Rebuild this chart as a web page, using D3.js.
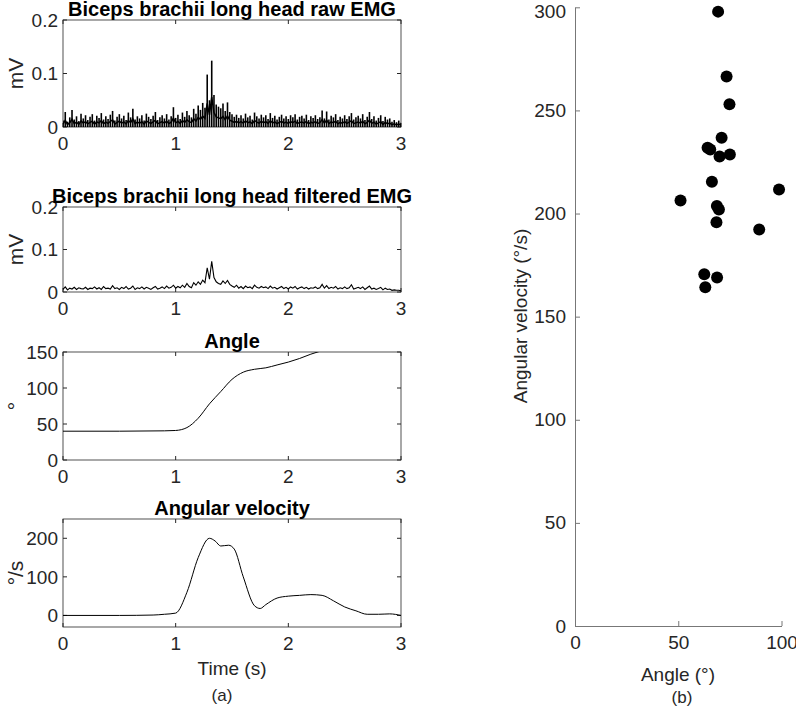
<!DOCTYPE html>
<html><head><meta charset="utf-8">
<script src="https://cdn.jsdelivr.net/npm/d3@7"></script>
<style>body{margin:0;background:#fff}</style>
</head><body>
<svg id="chart" width="796" height="709"></svg>
<script>
/* ── data ── */
const TIME_TICKS = [0, 1, 2, 3];
const EMG_TICKS = [0, 0.1, 0.2];
const ANGLE_TICKS = [0, 50, 100, 150];
const VEL_TICKS = [0, 100, 200];

// raw EMG spike peaks, one every 0.02 s from 0 to 3 s (mV)
const rawPeaks = [
  0.012,0.028,0.010,0.018,0.032,0.014,0.020,0.011,0.025,0.016,
  0.022,0.013,0.019,0.024,0.012,0.021,0.017,0.026,0.014,0.020,
  0.015,0.023,0.030,0.012,0.019,0.024,0.016,0.021,0.013,0.027,
  0.018,0.034,0.014,0.020,0.016,0.022,0.012,0.025,0.019,0.015,
  0.021,0.028,0.013,0.018,0.022,0.016,0.024,0.014,0.020,0.037,
  0.017,0.023,0.015,0.027,0.019,0.030,0.022,0.018,0.034,0.025,
  0.040,0.032,0.045,0.036,0.098,0.050,0.124,0.060,0.042,0.038,
  0.035,0.044,0.030,0.046,0.028,0.024,0.019,0.023,0.017,0.022,
  0.016,0.025,0.018,0.021,0.014,0.027,0.020,0.016,0.023,0.018,
  0.022,0.015,0.026,0.017,0.021,0.014,0.019,0.023,0.016,0.020,
  0.015,0.022,0.018,0.024,0.014,0.019,0.021,0.016,0.023,0.013,
  0.020,0.017,0.022,0.015,0.018,0.031,0.016,0.029,0.014,0.021,
  0.018,0.024,0.013,0.019,0.016,0.022,0.015,0.020,0.026,0.014,
  0.018,0.021,0.016,0.024,0.013,0.019,0.028,0.015,0.020,0.012,
  0.017,0.022,0.011,0.019,0.014,0.016,0.010,0.013,0.009,0.012,
  0.008
];

// filtered EMG, one value every 0.02 s from 0 to 3 s (mV)
const filtEmg = [
  0.006,0.012,0.005,0.009,0.007,0.011,0.006,0.010,0.008,0.007,
  0.011,0.006,0.009,0.008,0.012,0.007,0.010,0.006,0.013,0.008,
  0.009,0.007,0.015,0.008,0.010,0.006,0.011,0.008,0.013,0.007,
  0.009,0.014,0.006,0.010,0.008,0.012,0.007,0.011,0.009,0.006,
  0.010,0.013,0.007,0.009,0.012,0.008,0.014,0.009,0.011,0.016,
  0.009,0.013,0.010,0.016,0.011,0.020,0.013,0.010,0.022,0.016,
  0.024,0.018,0.028,0.022,0.057,0.030,0.072,0.034,0.024,0.020,
  0.018,0.026,0.020,0.027,0.018,0.014,0.011,0.016,0.009,0.013,
  0.008,0.014,0.010,0.012,0.008,0.016,0.011,0.009,0.013,0.010,
  0.012,0.008,0.014,0.009,0.011,0.007,0.010,0.013,0.008,0.011,
  0.007,0.012,0.009,0.013,0.007,0.010,0.012,0.008,0.011,0.007,
  0.010,0.009,0.012,0.008,0.010,0.018,0.009,0.015,0.008,0.011,
  0.009,0.013,0.007,0.010,0.008,0.012,0.008,0.010,0.017,0.007,
  0.009,0.011,0.008,0.012,0.006,0.010,0.014,0.007,0.009,0.006,
  0.008,0.011,0.005,0.009,0.006,0.007,0.004,0.005,0.004,0.004,
  0.003
];

const angleT   = [0, 0.5, 0.9, 1.0, 1.1, 1.2, 1.3, 1.4, 1.5, 1.6, 1.7, 1.8, 1.9, 2.0, 2.1, 2.2, 2.3, 2.4];
const angleVal = [40, 40, 40.5, 41, 45, 58, 78, 95, 112, 122, 126, 128, 132, 136, 141, 147, 152, 157];

const velT   = [0, 0.5, 0.8, 0.9, 1.0, 1.1, 1.2, 1.3, 1.35, 1.4, 1.47, 1.52, 1.6, 1.7, 1.75, 1.8, 1.9, 2.0, 2.1, 2.2, 2.3, 2.4, 2.5, 2.6, 2.7, 2.8, 2.9, 3.0];
const velVal = [0, 0, 1, 3, 6, 60, 150, 200, 193, 180, 182, 172, 100, 25, 18, 28, 45, 50, 52, 54, 52, 38, 22, 12, 3, 3, 4, 0];

// panel (b): angle (°) vs peak angular velocity (°/s)
const scatterAngle = [69.3, 73.4, 74.8, 71.0, 64.2, 65.5, 70.0, 75.0, 66.3, 98.8, 51.1, 68.7, 69.7, 68.5, 89.2, 62.6, 68.8, 63.1];
const scatterVel   = [297.9, 266.4, 253.0, 236.7, 231.9, 231.1, 227.7, 228.6, 215.4, 211.7, 206.3, 203.7, 202.0, 195.8, 192.3, 170.6, 169.0, 164.2];
const SC_X_TICKS = [0, 50, 100];
const SC_Y_TICKS = [0, 50, 100, 150, 200, 250, 300];

/* ── setup ── */
const FONT = '"Liberation Sans", Arial, Helvetica, sans-serif';
const AX = '#262626';
const FS = 19;
const svg = d3.select('#chart').attr('font-family', FONT);

const L = 63, R = 401;
const x = d3.scaleLinear().domain([0, 3]).range([L, R]);

function panel(id, top, bottom, yDomain, yTicks, title, ylab) {
  const y = d3.scaleLinear().domain(yDomain).range([bottom, top]);
  const g = svg.append('g');
  g.append('clipPath').attr('id', id)
    .append('rect').attr('x', L).attr('y', top).attr('width', R - L).attr('height', bottom - top);

  // ticks (inside, both sides)
  const tk = 4;
  TIME_TICKS.forEach(t => {
    g.append('line').attr('x1', x(t)).attr('x2', x(t)).attr('y1', bottom).attr('y2', bottom - tk).attr('stroke', AX);
    g.append('line').attr('x1', x(t)).attr('x2', x(t)).attr('y1', top).attr('y2', top + tk).attr('stroke', AX);
    g.append('text').attr('x', x(t)).attr('y', bottom + 23).attr('text-anchor', 'middle')
      .attr('font-size', FS).attr('fill', AX).text(t);
  });
  yTicks.forEach(v => {
    g.append('line').attr('x1', L).attr('x2', L + tk).attr('y1', y(v)).attr('y2', y(v)).attr('stroke', AX);
    g.append('line').attr('x1', R).attr('x2', R - tk).attr('y1', y(v)).attr('y2', y(v)).attr('stroke', AX);
    g.append('text').attr('x', L - 5).attr('y', y(v)).attr('dy', '0.35em').attr('text-anchor', 'end')
      .attr('font-size', FS).attr('fill', AX).text(v);
  });
  g.append('rect').attr('x', L).attr('y', top).attr('width', R - L).attr('height', bottom - top)
    .attr('fill', 'none').attr('stroke', AX).attr('stroke-width', 0.8);

  g.append('text').attr('x', (L + R) / 2).attr('y', top - 4).attr('text-anchor', 'middle')
    .attr('font-size', 20).attr('font-weight', 'bold').text(title);
  g.append('text').attr('transform', `translate(23,${(top + bottom) / 2}) rotate(-90)`)
    .attr('text-anchor', 'middle').attr('font-size', 21).attr('fill', AX).text(ylab);

  const plot = g.append('g').attr('clip-path', `url(#${id})`);
  return { y, plot };
}

/* raw EMG */
const p1 = panel('c1', 20, 127, [0, 0.2], EMG_TICKS, 'Biceps brachii long head raw EMG', 'mV');
p1.plot.selectAll('line').data(rawPeaks).join('line')
  .attr('x1', (d, i) => x(i * 0.02)).attr('x2', (d, i) => x(i * 0.02))
  .attr('y1', p1.y(0)).attr('y2', d => p1.y(d))
  .attr('stroke', '#000').attr('stroke-width', 1.6);
p1.plot.append('path')
  .datum(rawPeaks)
  .attr('d', d3.line().x((d, i) => x(i * 0.02)).y(d => p1.y(d * 0.45)))
  .attr('fill', 'none').attr('stroke', '#000').attr('stroke-width', 1.5);

/* filtered EMG */
const p2 = panel('c2', 207, 292, [0, 0.2], EMG_TICKS, 'Biceps brachii long head filtered EMG', 'mV');
p2.plot.append('path').datum(filtEmg)
  .attr('d', d3.line().x((d, i) => x(i * 0.02)).y(d => p2.y(d)))
  .attr('fill', 'none').attr('stroke', '#000').attr('stroke-width', 1.1);

/* angle */
const p3 = panel('c3', 352, 460, [0, 150], ANGLE_TICKS, 'Angle', '°');
p3.plot.append('path').datum(angleT.map((t, i) => [t, angleVal[i]]))
  .attr('d', d3.line().x(d => x(d[0])).y(d => p3.y(d[1])).curve(d3.curveMonotoneX))
  .attr('fill', 'none').attr('stroke', '#000').attr('stroke-width', 1);

/* angular velocity */
const p4 = panel('c4', 519, 627, [-30, 250], VEL_TICKS, 'Angular velocity', '°/s');
p4.plot.append('path').datum(velT.map((t, i) => [t, velVal[i]]))
  .attr('d', d3.line().x(d => x(d[0])).y(d => p4.y(d[1])).curve(d3.curveMonotoneX))
  .attr('fill', 'none').attr('stroke', '#000').attr('stroke-width', 1);

svg.append('text').attr('x', (L + R) / 2).attr('y', 675).attr('text-anchor', 'middle')
  .attr('font-size', FS).attr('fill', AX).text('Time (s)');
svg.append('text').attr('x', 222).attr('y', 701).attr('text-anchor', 'middle')
  .attr('font-size', 17).attr('fill', AX).text('(a)');

/* ── panel (b) scatter ── */
const sx = d3.scaleLinear().domain([0, 100]).range([575, 781.5]);
const sy = d3.scaleLinear().domain([0, 300]).range([626, 7.3]);
const gb = svg.append('g');

gb.append('g').attr('transform', 'translate(0,626)')
  .call(d3.axisBottom(sx).tickValues(SC_X_TICKS).tickSizeInner(-5).tickSizeOuter(0).tickPadding(10))
  .call(ax => ax.select('.domain').attr('stroke', '#777'))
  .call(ax => ax.selectAll('.tick line').attr('stroke', '#777'))
  .call(ax => ax.selectAll('.tick text').attr('font-size', FS).attr('fill', AX).attr('font-family', FONT));

gb.append('g').attr('transform', 'translate(575,0)')
  .call(d3.axisLeft(sy).tickValues(SC_Y_TICKS).tickSizeInner(-5).tickSizeOuter(0).tickPadding(9))
  .call(ax => ax.select('.domain').attr('stroke', '#777'))
  .call(ax => ax.selectAll('.tick line').attr('stroke', '#777'))
  .call(ax => ax.selectAll('.tick text').attr('font-size', FS).attr('fill', AX).attr('font-family', FONT))
  .call(ax => ax.selectAll('.tick').filter(d => d === 300).select('text').attr('dy', '0.55em'));

gb.selectAll('circle').data(scatterAngle).join('circle')
  .attr('cx', d => sx(d)).attr('cy', (d, i) => sy(scatterVel[i]))
  .attr('r', 6).attr('fill', '#000');

gb.append('text').attr('transform', 'translate(527,316) rotate(-90)')
  .attr('text-anchor', 'middle').attr('font-size', FS).attr('fill', AX).text('Angular velocity (°/s)');
gb.append('text').attr('x', 678).attr('y', 681).attr('text-anchor', 'middle')
  .attr('font-size', FS).attr('fill', AX).text('Angle (°)');
gb.append('text').attr('x', 682).attr('y', 703).attr('text-anchor', 'middle')
  .attr('font-size', 17).attr('fill', AX).text('(b)');
</script>
</body></html>
